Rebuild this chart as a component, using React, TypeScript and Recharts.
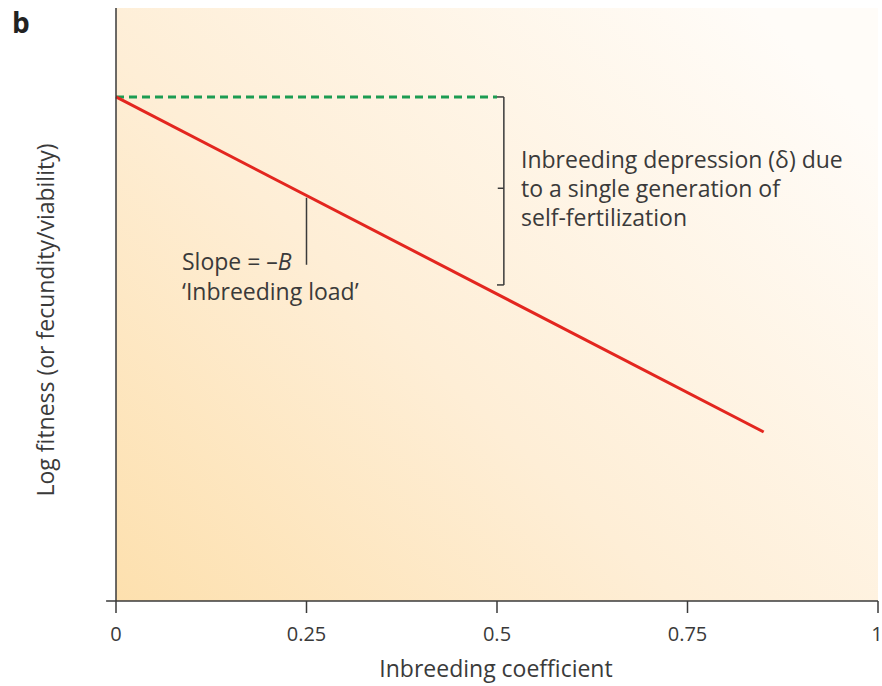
import React from 'react'
import { ComposedChart, Line, XAxis, YAxis, CartesianGrid, ReferenceLine } from 'recharts'

// inbreeding coefficient (F) and log fitness values
const inbreedingTicks = [0, 0.25, 0.5, 0.75, 1]
const selfedF = [0, 0.85]
const selfedLogFitness = [0.85, 0.285]
const outbredF = [0, 0.5]
const outbredLogFitness = [0.85, 0.85]

const selfedData = selfedF.map((f, i) => ({ f, v: selfedLogFitness[i] }))
const outbredData = outbredF.map((f, i) => ({ f, v: outbredLogFitness[i] }))

const FONT = '"Open Sans", "Noto Sans", sans-serif'
const INK = '#3a3a3a'

export default function App() {
  return (
    <div style={{ position: 'absolute', left: 0, top: 0, width: 882, height: 686, background: '#fff' }}>
      <ComposedChart width={882} height={686} margin={{ top: 8, right: 4, bottom: 0, left: 0 }}>
        <defs>
          <linearGradient id="bgGrad" x1="0" y1="1" x2="1" y2="0.2">
            <stop offset="0" stopColor="#fde0ae" />
            <stop offset="0.45" stopColor="#feeed6" />
            <stop offset="1" stopColor="#fffcf8" />
          </linearGradient>
        </defs>
        <CartesianGrid horizontal={false} vertical={false} fill="url(#bgGrad)" />
        <XAxis
          type="number"
          dataKey="f"
          domain={[0, 1]}
          ticks={inbreedingTicks}
          tickFormatter={(v: number) => String(v)}
          height={85}
          tickSize={12}
          tickMargin={14}
          axisLine={{ stroke: INK, strokeWidth: 1.5 }}
          tickLine={{ stroke: INK, strokeWidth: 1.5 }}
          tick={{ fill: INK, fontSize: 20, fontFamily: FONT }}
        />
        <YAxis
          type="number"
          domain={[0, 1]}
          width={116}
          tick={false}
          tickLine={false}
          axisLine={{ stroke: INK, strokeWidth: 1.5 }}
        />
        {/* axis line stub left of origin */}
        <ReferenceLine segment={[{ x: -0.013, y: 0 }, { x: 0, y: 0 }]} stroke={INK} strokeWidth={1.5} ifOverflow="visible" />

        {/* bracket for inbreeding depression */}
        <ReferenceLine segment={[{ x: 0.5, y: 0.85 }, { x: 0.509, y: 0.85 }]} stroke={INK} strokeWidth={1.5} />
        <ReferenceLine segment={[{ x: 0.509, y: 0.85 }, { x: 0.509, y: 0.533 }]} stroke={INK} strokeWidth={1.5} />
        <ReferenceLine segment={[{ x: 0.5, y: 0.533 }, { x: 0.509, y: 0.533 }]} stroke={INK} strokeWidth={1.5} />
        <ReferenceLine segment={[{ x: 0.501, y: 0.696 }, { x: 0.509, y: 0.696 }]} stroke={INK} strokeWidth={1.5} />

        {/* slope pointer */}
        <ReferenceLine segment={[{ x: 0.25, y: 0.68 }, { x: 0.25, y: 0.567 }]} stroke={INK} strokeWidth={1.5} />

        <Line data={outbredData} dataKey="v" type="linear" stroke="#1c9c52" strokeWidth={3} strokeDasharray="8 5" dot={false} isAnimationActive={false} />
        <Line data={selfedData} dataKey="v" type="linear" stroke="#e3261f" strokeWidth={3} dot={false} isAnimationActive={false} />

        <text x={12} y={33} fontSize={28} fontWeight="bold" fontFamily={FONT} fill="#222">b</text>
        <text x={45} y={320} transform="rotate(-90 45 320)" textAnchor="middle" dominantBaseline="central" fontSize={23} fontFamily={FONT} fill={INK}>
          Log fitness (or fecundity/viability)
        </text>
        <text x={496} y={677} textAnchor="middle" fontSize={23} fontFamily={FONT} fill={INK}>Inbreeding coefficient</text>

        <text x={521} y={168} fontSize={23} fontFamily={FONT} fill={INK}>Inbreeding depression (δ) due</text>
        <text x={521} y={197} fontSize={23} fontFamily={FONT} fill={INK}>to a single generation of</text>
        <text x={521} y={226} fontSize={23} fontFamily={FONT} fill={INK}>self-fertilization</text>

        <text x={182} y={270} fontSize={23} fontFamily={FONT} fill={INK}>
          Slope = –<tspan fontStyle="italic">B</tspan>
        </text>
        <text x={182} y={300} fontSize={23} fontFamily={FONT} fill={INK}>‘Inbreeding load’</text>
      </ComposedChart>
    </div>
  )
}
